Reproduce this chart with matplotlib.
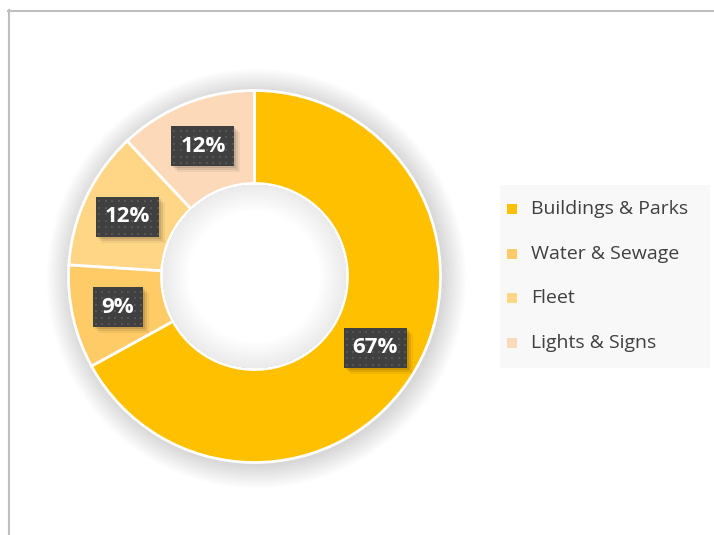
import matplotlib
matplotlib.use("Agg")
import matplotlib.pyplot as plt
import numpy as np
from matplotlib.lines import Line2D
from matplotlib.patches import Rectangle, Circle, Wedge

plt.rcParams['font.family'] = ['Open Sans', 'DejaVu Sans']

categories = ["Buildings & Parks", "Water & Sewage", "Fleet", "Lights & Signs"]
shares = [67, 9, 12, 12]
colors = ["#FFC000", "#FFCB66", "#FFD686", "#FCDAB9"]

fig = plt.figure(figsize=(7.14, 5.35), dpi=100)
fig.patch.set_facecolor("white")

# chart area border (top and left only visible)
fig.add_artist(Line2D([8 / 714, 714 / 714], [1 - 10.5 / 535, 1 - 10.5 / 535],
                      color="#BFBFBF", lw=1.5, transform=fig.transFigure))
fig.add_artist(Line2D([8.5 / 714, 8.5 / 714], [0, 1 - 10 / 535],
                      color="#BFBFBF", lw=1.5, transform=fig.transFigure))

# donut axes: 1 data unit = 1 pixel, centre ~ (254, 277) px, outer radius ~186 px
R = 186
cx, cy = 254.5, 276.5
ax = fig.add_axes([(cx - 230) / 714, 1 - (cy + 230) / 535, 460 / 714, 460 / 535])

# soft outer shadow
for i in range(20):
    ax.add_patch(Circle((2, -2), R + 1 + i * 1.2, color="#000000", alpha=0.007, lw=0))

wedges, _ = ax.pie(shares, colors=colors, startangle=90, counterclock=False,
                   radius=R, wedgeprops=dict(width=R / 2, edgecolor="white", linewidth=2))

# white hole with a soft inner shadow
ax.add_patch(Circle((0, 0), R / 2 - 1, color="white", lw=0, zorder=2))
for i in range(20):
    ax.add_patch(Wedge((0, 0), R / 2 - 1, 0, 360, width=2 + i * 1.3,
                       color="#000000", alpha=0.0045, lw=0, zorder=2))

ax.set_xlim(-230, 230)
ax.set_ylim(-230, 230)
ax.set_aspect("equal")
ax.axis("off")

# data labels
start = 90.0
for share in shares:
    sweep = share / 100 * 360
    mid = np.deg2rad(start - sweep / 2)
    start -= sweep
    x, y = 140 * np.cos(mid), 140 * np.sin(mid)
    w = 63 if share >= 10 else 50
    h = 40
    for k, a in [(2, 0.10), (4, 0.08), (6, 0.05)]:
        ax.add_patch(Rectangle((x - w / 2 + k, y - h / 2 - k), w, h, fc="#000000",
                               ec="none", alpha=a, zorder=3))
    ax.add_patch(Rectangle((x - w / 2, y - h / 2), w, h, fc="#404040", ec="none", zorder=4))
    gx, gy = np.meshgrid(np.arange(x - w / 2 + 3, x + w / 2, 6.5),
                         np.arange(y - h / 2 + 3, y + h / 2, 6.5))
    ax.scatter(gx.ravel(), gy.ravel(), s=1.6, marker="s", c="#555555", lw=0, zorder=5)
    ax.text(x, y, f"{share}%", ha="center", va="center", fontsize=16,
            fontweight="bold", color="white", zorder=6)

# legend
fig.add_artist(Rectangle((500 / 714, 1 - 368 / 535), 210 / 714, 183 / 535,
                         transform=fig.transFigure, fc="#F8F8F8", ec="none"))
for i, (name, c) in enumerate(zip(categories, colors)):
    ypx = 209 + i * 44.7
    fig.add_artist(Rectangle((507 / 714, 1 - (ypx + 5) / 535), 10 / 714, 10 / 535,
                             transform=fig.transFigure, fc=c, ec="none"))
    fig.text(531 / 714, 1 - ypx / 535, name, fontsize=14, color="#404040",
             ha="left", va="center")

fig.savefig("out.png", dpi=100)
